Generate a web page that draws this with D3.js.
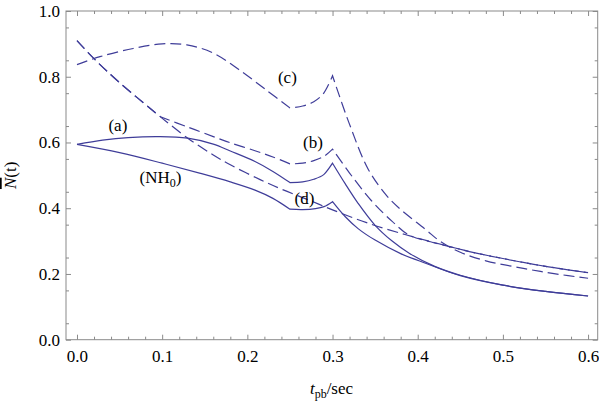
<!DOCTYPE html>
<html><head><meta charset="utf-8">
<script src="https://cdn.jsdelivr.net/npm/d3@7"></script>
<style>
html,body{margin:0;padding:0;background:#fff;}
svg text{font-family:"Liberation Serif","Times New Roman","DejaVu Serif",serif;fill:#000;}
</style>
</head><body>
<svg id="chart" width="599" height="407"></svg>
<script>
// ---------- data (t in sec, N-bar) ----------
const xTicks = [0.0, 0.1, 0.2, 0.3, 0.4, 0.5, 0.6];
const yTicks = [0.0, 0.2, 0.4, 0.6, 0.8, 1.0];

const seriesA = [[0,0.594],[0.03,0.607],[0.06,0.615],[0.0975,0.618],[0.13,0.613],[0.16,0.595],[0.18,0.574],[0.209,0.542],[0.23,0.512],[0.25,0.478],
  [0.265,0.48],[0.278,0.488],[0.29,0.503],[0.3,0.537],
  [0.315,0.474],[0.33,0.415],[0.35,0.348],[0.37,0.3],[0.39,0.263],[0.42,0.223],[0.45,0.196],[0.5,0.166],[0.55,0.147],[0.6,0.133]];
const breaksA = [0.25, 0.3];

const seriesNH0 = [[0,0.594],[0.05,0.569],[0.1,0.537],[0.145,0.506],[0.18,0.48],[0.209,0.455],[0.23,0.43],[0.25,0.397],
  [0.265,0.396],[0.28,0.399],[0.29,0.405],[0.3,0.42],
  [0.315,0.374],[0.33,0.338],[0.35,0.303],[0.38,0.262],[0.41,0.232],[0.45,0.195],[0.5,0.166],[0.55,0.147],[0.6,0.133]];
const breaksNH0 = [0.25, 0.3];

const seriesB = [[0,0.91],[0.02,0.855],[0.05,0.782],[0.098,0.678],
  [0.13,0.647],[0.16,0.618],[0.18,0.599],[0.209,0.575],[0.23,0.556],[0.25,0.535],
  [0.265,0.537],[0.278,0.545],[0.29,0.558],[0.3,0.58],
  [0.32,0.507],[0.346,0.422],[0.37,0.36],[0.39,0.318],[0.415,0.298],[0.444,0.279],[0.466,0.265],[0.5,0.247],[0.524,0.235],[0.56,0.219],[0.6,0.204]];
const breaksB = [0.098, 0.25, 0.3];

const seriesC = [[0,0.837],[0.027,0.861],[0.066,0.886],[0.1,0.9],[0.129,0.897],[0.16,0.872],[0.19,0.822],[0.222,0.76],[0.25,0.705],
  [0.265,0.711],[0.278,0.724],[0.289,0.748],[0.3,0.803],
  [0.32,0.655],[0.342,0.518],[0.364,0.437],[0.38,0.396],[0.409,0.336],[0.427,0.298],[0.45,0.266],[0.48,0.24],[0.524,0.217],[0.56,0.201],[0.6,0.187]];
const breaksC = [0.25, 0.3];

const seriesD = [[0,0.91],[0.02,0.855],[0.05,0.782],[0.098,0.678],[0.13,0.613],[0.16,0.562],[0.18,0.532],[0.215,0.487],[0.24,0.458],[0.272,0.425],
  [0.3,0.395],[0.34,0.356],[0.385,0.32],[0.42,0.295],[0.444,0.279],[0.466,0.265],[0.5,0.247],[0.524,0.235],[0.56,0.219],[0.6,0.204]];
const breaksD = [0.098];

const labels = [
  {text:"(a)", t:0.048, v:0.635},
  {text:"(c)", t:0.247, v:0.781},
  {text:"(b)", t:0.277, v:0.583},
  {text:"(d)", t:0.267, v:0.413},
  {text:"(NH", sub:"0", t:0.098, v:0.477}
];

// ---------- layout ----------
const plotL = 66, plotR = 597.7, plotT = 11, plotB = 339.7;
const lineColor = "#3f3d99";
const frameColor = "#8a8a8a";
const serif = '"Liberation Serif","Times New Roman","DejaVu Serif",serif';

const svg = d3.select("#chart");
const x = d3.scaleLinear().domain([-0.0129, 0.6113]).range([plotL, plotR]);
const y = d3.scaleLinear().domain([0, 1]).range([plotB, plotT]);

// frame
svg.append("rect").attr("x", plotL).attr("y", plotT).attr("width", plotR-plotL).attr("height", plotB-plotT)
  .attr("fill", "none").attr("stroke", frameColor).attr("stroke-width", 1);

const xMinor = d3.range(0, 0.6001, 0.02).filter(v => Math.abs(Math.round(v*10)-v*10) > 1e-6);
const yMinor = d3.range(0.05, 1.0, 0.1);

function styleAxis(g){
  g.attr("font-family", serif);
  g.select(".domain").remove();
  g.selectAll("line").attr("stroke", frameColor);
  g.selectAll("text").attr("font-size", 17).attr("font-family", serif).attr("fill", "#000");
}
// bottom
svg.append("g").attr("transform", `translate(0,${plotB})`)
  .call(d3.axisBottom(x).tickValues(xTicks).tickSize(-5).tickPadding(10).tickFormat(d3.format(".1f"))).call(styleAxis);
svg.append("g").attr("transform", `translate(0,${plotB})`)
  .call(d3.axisBottom(x).tickValues(xMinor).tickSize(-3).tickFormat("")).call(styleAxis);
// top
svg.append("g").attr("transform", `translate(0,${plotT})`)
  .call(d3.axisTop(x).tickValues(xTicks).tickSize(-5).tickFormat("")).call(styleAxis);
svg.append("g").attr("transform", `translate(0,${plotT})`)
  .call(d3.axisTop(x).tickValues(xMinor).tickSize(-3).tickFormat("")).call(styleAxis);
// left
svg.append("g").attr("transform", `translate(${plotL},0)`)
  .call(d3.axisLeft(y).tickValues(yTicks).tickSize(-5).tickPadding(6).tickFormat(d3.format(".1f"))).call(styleAxis);
svg.append("g").attr("transform", `translate(${plotL},0)`)
  .call(d3.axisLeft(y).tickValues(yMinor).tickSize(-3).tickFormat("")).call(styleAxis);
// right
svg.append("g").attr("transform", `translate(${plotR},0)`)
  .call(d3.axisRight(y).tickValues(yTicks).tickSize(-5).tickFormat("")).call(styleAxis);
svg.append("g").attr("transform", `translate(${plotR},0)`)
  .call(d3.axisRight(y).tickValues(yMinor).tickSize(-3).tickFormat("")).call(styleAxis);

// curves
const lineGen = d3.line().x(d => x(d[0])).y(d => y(d[1])).curve(d3.curveCatmullRom.alpha(0.5));
function pathFor(series, breaks){
  const segs = [];
  let cur = [];
  series.forEach(p => {
    cur.push(p);
    if (breaks.some(b => Math.abs(b - p[0]) < 1e-9)) { segs.push(cur); cur = [p]; }
  });
  if (cur.length > 1) segs.push(cur);
  return segs.map((s, i) => { const d = lineGen(s); return i === 0 ? d : d.replace(/^M/, "L"); }).join("");
}
const curves = [
  {s: seriesD, b: breaksD, dash: "11,5"},
  {s: seriesB, b: breaksB, dash: "11,5"},
  {s: seriesC, b: breaksC, dash: "11,5"},
  {s: seriesNH0, b: breaksNH0, dash: null},
  {s: seriesA, b: breaksA, dash: null}
];
curves.forEach(c => {
  svg.append("path").attr("d", pathFor(c.s, c.b)).attr("fill", "none")
    .attr("stroke", lineColor).attr("stroke-width", 1.2)
    .attr("stroke-dasharray", c.dash);
});

// curve labels
labels.forEach(l => {
  const t = svg.append("text").attr("x", x(l.t)).attr("y", y(l.v))
    .attr("text-anchor", "middle").attr("font-size", 17).attr("font-family", serif);
  t.append("tspan").text(l.text);
  if (l.sub) {
    t.append("tspan").attr("font-size", 12).attr("dy", 4).text(l.sub);
    t.append("tspan").attr("dy", -4).text(")");
  }
});

// axis titles
const xt = svg.append("text").attr("x", 331.5).attr("y", 394).attr("text-anchor", "middle")
  .attr("font-size", 17).attr("font-family", serif);
xt.append("tspan").attr("font-style", "italic").text("t");
xt.append("tspan").attr("font-size", 12).attr("dy", 4).text("pb");
xt.append("tspan").attr("dy", -4).text("/sec");

const yt = svg.append("text").attr("transform", `translate(16,${(plotT+plotB)/2}) rotate(-90)`)
  .attr("text-anchor", "middle").attr("font-size", 17).attr("font-family", serif);
yt.append("tspan").attr("font-style", "italic").attr("text-decoration", "overline").text("N");
yt.append("tspan").text("(t)");
</script>
</body></html>
